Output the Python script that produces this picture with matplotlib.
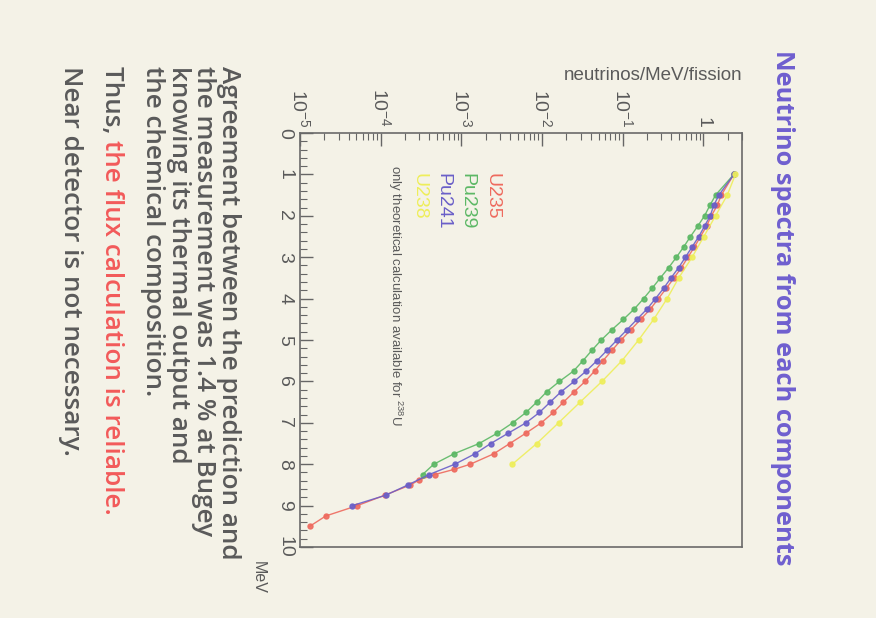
import numpy as np
import matplotlib
matplotlib.use("Agg")
import matplotlib.pyplot as plt
import matplotlib.ticker as mticker

# scanned slide, rotated 90 deg clockwise: energy runs down the page,
# flux (log) runs left -> right

# energies (MeV) and neutrinos/MeV/fission
E_u235 = [1.0, 1.5, 1.75, 2.0, 2.25, 2.5, 2.75, 3.0, 3.25, 3.5, 3.75, 4.0, 4.25, 4.5, 4.75,
          5.0, 5.25, 5.5, 5.75, 6.0, 6.25, 6.5, 6.75, 7.0, 7.25, 7.5, 7.75, 8.0,
          8.125, 8.25, 8.375, 8.5, 8.75, 9.0, 9.25, 9.5]
u235 = [2.38, 1.66, 1.48, 1.25, 1.09, 0.918, 0.773, 0.641, 0.533, 0.431, 0.347, 0.276, 0.220, 0.167, 0.126,
        0.0951, 0.0735, 0.0568, 0.0447, 0.0342, 0.0250, 0.0184, 0.0138, 0.00977, 0.00631, 0.00398, 0.00251, 0.00129,
        8.13e-4, 4.68e-4, 3.02e-4, 2.34e-4, 1.12e-4, 5.13e-5, 2.09e-5, 1.32e-5]

E_pu239 = [1.0, 1.5, 1.75, 2.0, 2.25, 2.5, 2.75, 3.0, 3.25, 3.5, 3.75, 4.0, 4.25, 4.5, 4.75,
           5.0, 5.25, 5.5, 5.75, 6.0, 6.25, 6.5, 6.75, 7.0, 7.25, 7.5, 7.75, 8.0, 8.25]
pu239 = [2.38, 1.41, 1.20, 1.03, 0.849, 0.690, 0.569, 0.462, 0.371, 0.292, 0.231, 0.181, 0.139, 0.102, 0.0735,
         0.0541, 0.0414, 0.0321, 0.0245, 0.0164, 0.0114, 0.00859, 0.00632, 0.00433, 0.00279, 0.00166, 8.07e-4,
         4.55e-4, 3.30e-4]

E_pu241 = [1.0, 1.5, 1.75, 2.0, 2.25, 2.5, 2.75, 3.0, 3.25, 3.5, 3.75, 4.0, 4.25, 4.5, 4.75,
           5.0, 5.25, 5.5, 5.75, 6.0, 6.25, 6.5, 6.75, 7.0, 7.25, 7.5, 7.75, 8.0, 8.25, 8.5, 8.75, 9.0]
pu241 = [2.38, 1.55, 1.34, 1.21, 1.03, 0.875, 0.723, 0.597, 0.493, 0.396, 0.321, 0.254, 0.200, 0.150, 0.113,
         0.0847, 0.0637, 0.0478, 0.0352, 0.0250, 0.0172, 0.0126, 0.00927, 0.00632, 0.00381, 0.00231, 0.00147,
         8.30e-4, 3.98e-4, 2.18e-4, 1.15e-4, 4.45e-5]

E_u238 = [1.0, 1.5, 2.0, 2.5, 3.0, 3.5, 4.0, 4.5, 5.0, 5.5, 6.0, 6.5, 7.0, 7.5, 8.0]
u238 = [2.49, 1.97, 1.41, 1.01, 0.723, 0.493, 0.354, 0.242, 0.157, 0.0977, 0.0552, 0.0296, 0.0160, 0.00859, 0.00428]

labels = ["U235", "Pu239", "Pu241", "U238"]
colors = ["#ee6a5e", "#5cb865", "#6a5fc8", "#eeee5a"]

paper = "#f4f2e7"
grey = "#5a5a5a"

plt.rcParams['mathtext.fontset'] = 'custom'
plt.rcParams['mathtext.rm'] = 'Liberation Sans'
plt.rcParams['mathtext.default'] = 'regular'

W, H = 876, 618
fig = plt.figure(figsize=(W / 100, H / 100), dpi=100, facecolor=paper)

def fx(px):  # pixel -> figure fraction
    return px / W

def fy(py):
    return 1 - py / H

ax = fig.add_axes([fx(300), fy(547), fx(742) - fx(300), fy(133) - fy(547)])
ax.set_facecolor(paper)

series = [(E_u235, u235), (E_pu239, pu239), (E_pu241, pu241), (E_u238, u238)]
for (e, v), c in zip(series, colors):
    ax.plot(v, e, color=c, lw=1.0, marker='o', ms=3.6, mec=c, mfc=c, alpha=0.9)

ax.set_xscale('log')
ax.set_xlim(1e-5, 3)
ax.set_ylim(10, 0)

def logfmt(v, pos):
    e = int(round(np.log10(v)))
    return '1' if e == 0 else r'$10^{%d}$' % e

ax.xaxis.tick_top()
ax.xaxis.set_major_locator(mticker.LogLocator(base=10, numticks=10))
ax.xaxis.set_minor_locator(mticker.LogLocator(base=10, subs=np.arange(2, 10), numticks=20))
ax.xaxis.set_major_formatter(mticker.FuncFormatter(logfmt))
ax.xaxis.set_minor_formatter(mticker.NullFormatter())

ax.yaxis.set_major_locator(mticker.MultipleLocator(1))
ax.yaxis.set_minor_locator(mticker.MultipleLocator(0.2))

ax.tick_params(which='both', direction='in', colors='#666666', labelcolor=grey)
ax.tick_params(which='major', length=9, width=1)
ax.tick_params(which='minor', length=5, width=0.8)
ax.tick_params(axis='x', which='major', labelsize=14, pad=4, labelrotation=-90)
ax.tick_params(axis='y', which='major', labelsize=14, pad=5, labelrotation=-90)
for lab in ax.get_xticklabels():
    lab.set_fontfamily('Liberation Sans')
for lab in ax.get_yticklabels():
    lab.set_fontfamily('Liberation Sans')
    lab.set_va('center')
for s in ax.spines.values():
    s.set_color('#6a6a6a')
    s.set_linewidth(1.2)

# axis titles (ROOT style)
fig.text(fx(742), fy(75), "neutrinos/MeV/fission", ha='right', va='center',
         fontsize=13.5, color=grey, family='Liberation Sans')
fig.text(fx(258), fy(561), "MeV", ha='center', va='top', rotation=270,
         fontsize=11.5, color=grey, family='Liberation Sans')

# legend text
leg_x = [492, 467, 443, 419]
for lab, c, x in zip(labels, colors, leg_x):
    fig.text(fx(x), fy(173), lab, ha='center', va='top', rotation=270,
             fontsize=14, color=c, family='Liberation Sans')
fig.text(fx(395), fy(165), r"only theoretical calculation available for $^{238}$U",
         ha='center', va='top', rotation=270, fontsize=9.5, color=grey, family='Liberation Sans')

# slide title
fig.text(fx(783), fy(50), "Neutrino spectra from each components", ha='center', va='top',
         rotation=270, fontsize=18.3, fontweight='bold', color='#6f5fcf', family='Open Sans')

# slide body
body = ["Agreement between the prediction and",
        "the measurement was 1.4 % at Bugey",
        "knowing its thermal output and",
        "the chemical composition."]
body_x = [228, 203, 178, 152]
fs = 18.8
for line, x in zip(body, body_x):
    fig.text(fx(x), fy(66), line, ha='center', va='top', rotation=270,
             fontsize=fs, fontweight='semibold', color=grey, family='Open Sans')

t_thus = fig.text(fx(111), fy(66), "Thus, ", ha='center', va='top', rotation=270,
                  fontsize=fs, fontweight='semibold', color=grey, family='Open Sans')
fig.text(fx(70), fy(66), "Near detector is not necessary.", ha='center', va='top', rotation=270,
         fontsize=fs, fontweight='semibold', color=grey, family='Open Sans')

fig.canvas.draw()
bb = t_thus.get_window_extent(fig.canvas.get_renderer())
fig.text(fx(111), bb.y0 / fig.bbox.height, "the flux calculation is reliable.", ha='center', va='top',
         rotation=270, fontsize=fs, fontweight='semibold', color='#f25a5a', family='Open Sans')

fig.savefig("out.png", dpi=100, facecolor=paper)
